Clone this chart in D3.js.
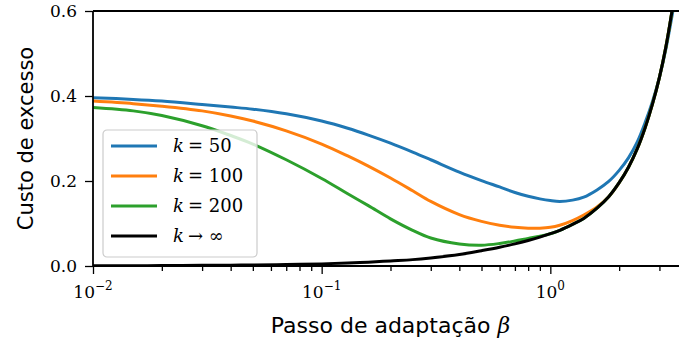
<!DOCTYPE html>
<html>
<head>
<meta charset="utf-8">
<script src="https://cdn.jsdelivr.net/npm/d3@7"></script>
<style>
  body { margin: 0; background: #fff; }
</style>
</head>
<body>
<div id="chart"></div>
<script>
// passo de adaptacao (beta) and the excess cost
var beta = [0.01, 0.015, 0.02, 0.03, 0.04, 0.05, 0.07, 0.1, 0.13, 0.16, 0.2, 0.25, 0.3, 0.4, 0.5, 0.6,
            0.7, 0.8, 0.9, 1.0, 1.1, 1.25, 1.4, 1.6, 1.8, 2.0, 2.2, 2.4, 2.6, 2.8, 3.0, 3.2, 3.5];
var cost50 = [0.396, 0.392, 0.388, 0.380, 0.374, 0.369, 0.358, 0.341, 0.324, 0.308, 0.289, 0.268, 0.250, 0.221, 0.201, 0.186,
              0.173, 0.164, 0.158, 0.154, 0.152, 0.155, 0.162, 0.179, 0.199, 0.225, 0.255, 0.292, 0.338, 0.388, 0.444, 0.510, 0.625];
var cost100 = [0.388, 0.382, 0.376, 0.365, 0.353, 0.341, 0.318, 0.287, 0.259, 0.235, 0.207, 0.177, 0.152, 0.121, 0.105, 0.096,
               0.091, 0.089, 0.089, 0.091, 0.096, 0.107, 0.120, 0.139, 0.163, 0.196, 0.233, 0.276, 0.326, 0.382, 0.444, 0.515, 0.640];
var cost200 = [0.373, 0.365, 0.354, 0.330, 0.307, 0.287, 0.250, 0.206, 0.170, 0.142, 0.111, 0.084, 0.066, 0.052, 0.049, 0.053,
               0.059, 0.065, 0.070, 0.076, 0.084, 0.098, 0.112, 0.136, 0.163, 0.196, 0.233, 0.276, 0.326, 0.382, 0.444, 0.515, 0.640];
var costInf = [0.0005, 0.0007, 0.001, 0.0015, 0.002, 0.0025, 0.0035, 0.005, 0.007, 0.009, 0.012, 0.015, 0.019, 0.027, 0.036, 0.044,
               0.052, 0.060, 0.068, 0.076, 0.084, 0.098, 0.112, 0.136, 0.163, 0.196, 0.233, 0.276, 0.326, 0.382, 0.444, 0.515, 0.640];

var seriesLabels = ["= 50", "= 100", "= 200", "\u2192 \u221E"];
var seriesColors = ["#1f77b4", "#ff7f0e", "#2ca02c", "#000000"];
var xMajor = [0.01, 0.1, 1];
var xMajorExp = ["\u22122", "\u22121", "0"];
var yTicks = [0.0, 0.2, 0.4, 0.6];

var w = 679, h = 344;
var margin = {left: 93, top: 11, right: -9, bottom: 78};
var pw = w - margin.left - margin.right;
var ph = h - margin.top - margin.bottom;

var svg = d3.select("#chart").append("svg")
    .attr("width", w).attr("height", h);

var x = d3.scaleLog().domain([0.01, 4]).range([margin.left, margin.left + pw]);
var y = d3.scaleLinear().domain([0, 0.6]).range([margin.top + ph, margin.top]);

svg.append("clipPath").attr("id", "plotclip")
  .append("rect")
    .attr("x", margin.left).attr("y", margin.top)
    .attr("width", pw).attr("height", ph);

var series = [cost50, cost100, cost200, costInf];

var line = d3.line()
    .x(function(d) { return x(d[0]); })
    .y(function(d) { return y(d[1]); })
    .curve(d3.curveCatmullRom.alpha(0.5));

var curves = svg.append("g").attr("clip-path", "url(#plotclip)");
series.forEach(function(vals, i) {
    curves.append("path")
        .datum(beta.map(function(b, j) { return [b, vals[j]]; }))
        .attr("d", line)
        .attr("fill", "none")
        .attr("stroke", seriesColors[i])
        .attr("stroke-width", 3)
        .attr("stroke-linejoin", "round");
});

// minor ticks on log axis
var xMinor = [];
[0.01, 0.1, 1].forEach(function(dec) {
    for (var m = 2; m <= 9; m++) {
        if (dec * m <= 4) xMinor.push(dec * m);
    }
});

var xMinorAxis = svg.append("g")
    .attr("transform", "translate(0," + (margin.top + ph) + ")")
    .call(d3.axisBottom(x).tickValues(xMinor).tickSize(5).tickFormat(""));
var xAxis = svg.append("g")
    .attr("transform", "translate(0," + (margin.top + ph) + ")")
    .call(d3.axisBottom(x).tickValues(xMajor).tickSize(8).tickFormat(""));
var yAxis = svg.append("g")
    .attr("transform", "translate(" + margin.left + ",0)")
    .call(d3.axisLeft(y).tickValues(yTicks).tickSize(8).tickPadding(8)
          .tickFormat(d3.format(".1f")));

[xMinorAxis, xAxis, yAxis].forEach(function(a) {
    a.select(".domain").remove();
    a.selectAll(".tick line").attr("stroke", "#000").attr("stroke-width", 1.3);
});
yAxis.selectAll(".tick text")
    .attr("font-family", "DejaVu Serif")
    .attr("font-size", 17)
    .attr("fill", "#000");

// x tick labels 10^n
xMajor.forEach(function(v, i) {
    var t = svg.append("text")
        .attr("x", x(v))
        .attr("y", margin.top + ph + 32)
        .attr("text-anchor", "middle")
        .attr("font-family", "DejaVu Serif")
        .attr("font-size", 17)
        .attr("fill", "#000");
    t.append("tspan").text("10");
    t.append("tspan").attr("dy", -8).attr("font-size", 12).text(xMajorExp[i]);
});

// spines
svg.append("path")
    .attr("d", "M" + margin.left + "," + margin.top + "V" + (margin.top + ph) + "H" + (margin.left + pw))
    .attr("fill", "none").attr("stroke", "#000").attr("stroke-width", 1.8);
svg.append("line")
    .attr("x1", margin.left).attr("x2", margin.left + pw)
    .attr("y1", margin.top).attr("y2", margin.top)
    .attr("stroke", "#000").attr("stroke-width", 1.8);

// axis titles
svg.append("text")
    .attr("transform", "translate(33," + (margin.top + ph / 2) + ") rotate(-90)")
    .attr("text-anchor", "middle")
    .attr("font-family", "DejaVu Sans")
    .attr("font-size", 21)
    .attr("fill", "#000")
    .text("Custo de excesso");

var xt = svg.append("text")
    .attr("x", margin.left + pw / 2)
    .attr("y", 333)
    .attr("text-anchor", "middle")
    .attr("font-family", "DejaVu Sans")
    .attr("font-size", 22)
    .attr("fill", "#000");
xt.append("tspan").text("Passo de adapta\u00E7\u00E3o ");
xt.append("tspan").attr("font-family", "DejaVu Serif").attr("font-style", "italic").text("\u03B2");

// legend
var legend = svg.append("g").attr("transform", "translate(103,130)");
legend.append("rect")
    .attr("width", 154).attr("height", 127)
    .attr("rx", 4)
    .attr("fill", "#fff").attr("fill-opacity", 0.8)
    .attr("stroke", "#cccccc").attr("stroke-width", 1.2);

seriesLabels.forEach(function(lab, i) {
    var ly = 16 + i * 30;
    legend.append("line")
        .attr("x1", 8).attr("x2", 54)
        .attr("y1", ly).attr("y2", ly)
        .attr("stroke", seriesColors[i])
        .attr("stroke-width", 3);
    var t = legend.append("text")
        .attr("x", 70).attr("y", ly + 6)
        .attr("font-family", "DejaVu Serif")
        .attr("font-size", 18)
        .attr("fill", "#000");
    t.append("tspan").attr("font-style", "italic").text("k");
    t.append("tspan").attr("dx", 4).text(lab);
});
</script>
</body>
</html>
